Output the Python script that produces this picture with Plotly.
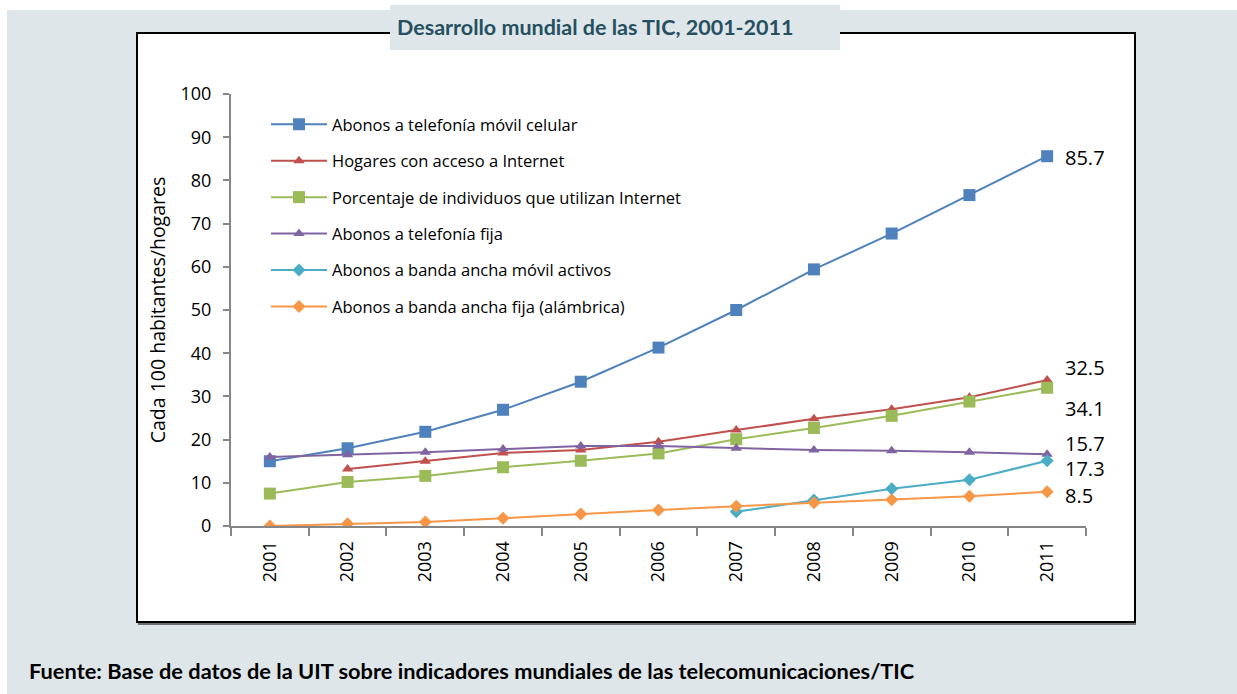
import plotly.graph_objects as go

years = [2001, 2002, 2003, 2004, 2005, 2006, 2007, 2008, 2009, 2010, 2011]
movil_celular = [15.0, 18.0, 21.8, 26.9, 33.4, 41.3, 50.0, 59.4, 67.7, 76.6, 85.6]
hogares_internet = [None, 13.2, 15.0, 16.9, 17.6, 19.5, 22.2, 24.8, 27.0, 29.8, 33.8]
individuos_internet = [7.5, 10.2, 11.6, 13.6, 15.1, 16.8, 20.1, 22.7, 25.5, 28.8, 32.0]
telefonia_fija = [16.0, 16.5, 17.1, 17.8, 18.5, 18.5, 18.0, 17.6, 17.4, 17.1, 16.6]
banda_movil = [None, None, None, None, None, None, 3.3, 6.0, 8.6, 10.7, 15.1]
banda_fija = [0.0, 0.5, 0.9, 1.8, 2.8, 3.7, 4.6, 5.4, 6.1, 6.9, 7.9]

series_names = [
    "Abonos a telefonía móvil celular",
    "Hogares con acceso a Internet",
    "Porcentaje de individuos que utilizan Internet",
    "Abonos a telefonía fija",
    "Abonos a banda ancha móvil activos",
    "Abonos a banda ancha fija (alámbrica)",
]
end_labels = ["85.7", "32.5", "34.1", "15.7", "17.3", "8.5"]
end_label_y = [85.4, 36.8, 27.3, 19.2, 13.4, 7.0]

y_ticks = [0, 10, 20, 30, 40, 50, 60, 70, 80, 90, 100]

title_text = "Desarrollo mundial de las TIC, 2001-2011"
y_title = "Cada 100 habitantes/hogares"
source_text = "Fuente: Base de datos de la UIT sobre indicadores mundiales de las telecomunicaciones/TIC"

colors = ["#4F81BD", "#C0504D", "#9BBB59", "#8064A2", "#4BACC6", "#F79646"]
symbols = ["square", "triangle-up", "square", "triangle-up", "diamond", "diamond"]
sizes = [12, 10, 12, 10, 10, 10]
values = [movil_celular, hogares_internet, individuos_internet, telefonia_fija, banda_movil, banda_fija]

FONT = "Open Sans"
BFONT = "Lato"
W, H = 1237, 694
L, R, T, B = 231, 151, 94, 168
PW = W - L - R
PH = H - T - B


def px(x):
    return (x - L) / PW


def py(y):
    return (H - B - y) / PH


fig = go.Figure()
for i in range(6):
    fig.add_trace(go.Scatter(
        x=years, y=values[i], name=series_names[i], mode="lines+markers",
        line=dict(color=colors[i], width=2),
        marker=dict(symbol=symbols[i], size=sizes[i], color=colors[i]),
        legendgroup=f"g{i}", connectgaps=False,
    ))

annotations = []
for lab, yv in zip(end_labels, end_label_y):
    annotations.append(dict(x=px(1063), y=yv, xref="paper", yref="y", text=lab,
                            showarrow=False, xanchor="left", yanchor="middle",
                            font=dict(family=FONT, size=20, color="#000000")))
annotations.append(dict(x=px(595), y=py(27), xref="paper", yref="paper", text=f"<b>{title_text}</b>",
                        showarrow=False, xanchor="center", yanchor="middle",
                        font=dict(family=BFONT, size=21.5, color="#25505F")))
annotations.append(dict(x=px(27), y=py(670), xref="paper", yref="paper", text=f"<b>{source_text}</b>",
                        showarrow=False, xanchor="left", yanchor="middle",
                        font=dict(family=BFONT, size=21.8, color="#000000")))

shapes = [
    dict(type="rect", xref="paper", yref="paper", x0=px(7), x1=px(W + 5), y0=py(10), y1=py(H + 5),
         fillcolor="#DFE6EA", line=dict(width=0), layer="below"),
    dict(type="rect", xref="paper", yref="paper", x0=px(138), x1=px(1136), y0=py(35), y1=py(625),
         fillcolor="#6E6E6E", line=dict(width=0), layer="below"),
    dict(type="rect", xref="paper", yref="paper", x0=px(137), x1=px(1135), y0=py(33), y1=py(622),
         fillcolor="#FFFFFF", line=dict(color="#000000", width=2), layer="below"),
    dict(type="rect", xref="paper", yref="paper", x0=px(390), x1=px(840), y0=py(5), y1=py(50),
         fillcolor="#DFE6EA", line=dict(width=0), layer="below"),
]

fig.update_layout(
    width=W, height=H,
    margin=dict(l=L, r=R, t=T, b=B, pad=0),
    paper_bgcolor="#FFFFFF",
    plot_bgcolor="rgba(0,0,0,0)",
    font=dict(family=FONT, size=16, color="#000000"),
    showlegend=True,
    legend=dict(x=px(266), y=py(107), xanchor="left", yanchor="top",
                bgcolor="rgba(0,0,0,0)", font=dict(family=FONT, size=16.5, color="#000000"),
                tracegroupgap=12, itemwidth=56),
    xaxis=dict(range=[2000.5, 2011.5], tickmode="array", tickvals=years,
               ticktext=[str(y) for y in years], tickangle=-90, ticks="",
               showline=True, linecolor="#868686", linewidth=2, showgrid=False, zeroline=False,
               tickfont=dict(family=FONT, size=18), ticklabelstandoff=6,
               minor=dict(tickmode="array", tickvals=[y + 0.5 for y in [2000] + years],
                          ticks="outside", ticklen=8, tickcolor="#868686", tickwidth=2)),
    yaxis=dict(range=[0, 100], tickmode="array", tickvals=y_ticks, ticks="outside", ticklen=6,
               tickcolor="#868686", tickwidth=2, showline=True, linecolor="#868686", linewidth=2,
               showgrid=False, zeroline=False, tickfont=dict(family=FONT, size=18),
               ticklabelstandoff=8,
               title=dict(text=y_title, font=dict(family=FONT, size=19.5), standoff=10)),
    annotations=annotations,
    shapes=shapes,
)

fig.write_html("out.html", config={"displayModeBar": False},
               post_script="document.body.style.margin='0';document.body.style.overflow='hidden';")
